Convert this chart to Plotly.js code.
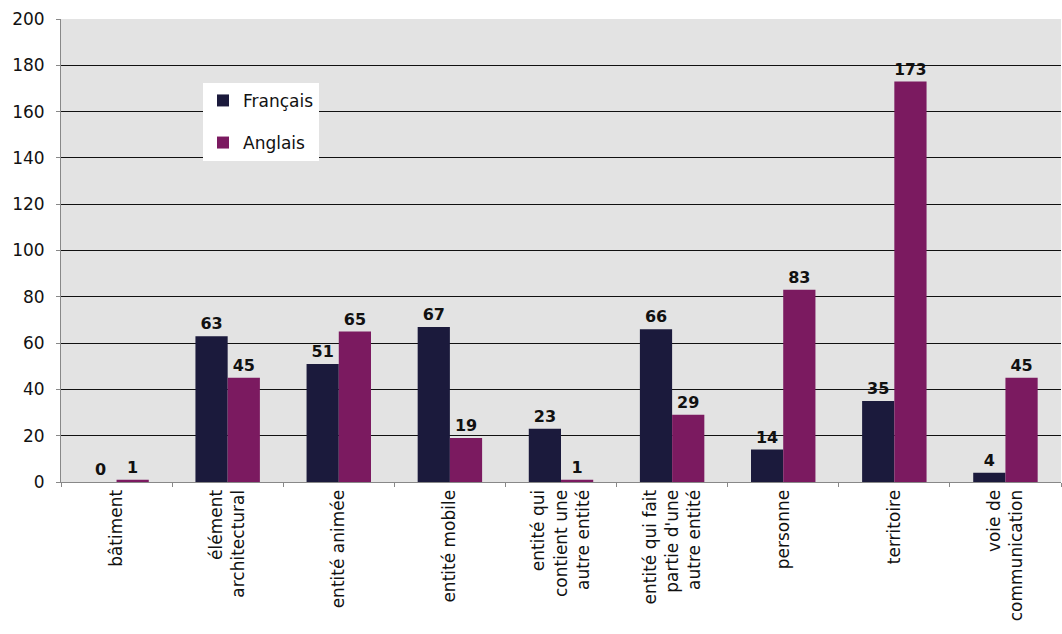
<!DOCTYPE html>
<html><head><meta charset="utf-8">
<script src="https://cdn.plot.ly/plotly-3.0.1.min.js"></script>
<style>body{margin:0;background:#fff}</style>
</head><body><div id="chart" style="width:1062px;height:634px"></div>
<script>
const categories = ["bâtiment","élément<br>architectural","entité animée","entité mobile","entité qui<br>contient une<br>autre entité","entité qui fait<br>partie d'une<br>autre entité","personne","territoire","voie de<br>communication"];
const francais = [0,63,51,67,23,66,14,35,4];
const anglais = [1,45,65,19,1,29,83,173,45];
const yTicks = [0,20,40,60,80,100,120,140,160,180,200];

const labelFont = {family:"DejaVu Sans", size:17, color:"#111"};
const valueFont = {family:"DejaVu Sans", size:16, color:"#111", weight:"bold"};
const traces = [
  {type:"bar", name:"Français", legendgroup:"f", x:categories, y:francais, marker:{color:"#1b1a3c"},
   text:francais.map(String), textposition:"outside", cliponaxis:false, textfont:valueFont},
  {type:"bar", name:"Anglais", legendgroup:"a", x:categories, y:anglais, marker:{color:"#7b1a60"},
   text:anglais.map(String), textposition:"outside", cliponaxis:false, textfont:valueFont}
];
const layout = {
  width:1062, height:634,
  margin:{l:61, r:1, t:19, b:152},
  paper_bgcolor:"#ffffff", plot_bgcolor:"#e3e3e3",
  barmode:"group", bargap:0.42, bargroupgap:0,
  font:labelFont,
  xaxis:{type:"category", tickangle:-90, tickfont:labelFont, showgrid:false, tickson:"boundaries",
         showline:true, linecolor:"#888", ticks:"outside", ticklen:4, tickcolor:"#888"},
  yaxis:{range:[0,200], tickvals:yTicks, ticktext:yTicks.map(String), tickfont:labelFont,
         showgrid:true, gridcolor:"#111", gridwidth:1, zeroline:false, ticklabelstandoff:8,
         showline:true, linecolor:"#888", ticks:"outside", ticklen:4, tickcolor:"#888"},
  legend:{x:0.142, y:0.862, xanchor:"left", yanchor:"top", bgcolor:"#ffffff",
          borderwidth:0, font:{family:"DejaVu Sans", size:17, color:"#111"},
          traceorder:"grouped", tracegroupgap:17, itemwidth:30},
  showlegend:true
};
Plotly.newPlot("chart", traces, layout, {displayModeBar:false, staticPlot:true});
</script></body></html>
